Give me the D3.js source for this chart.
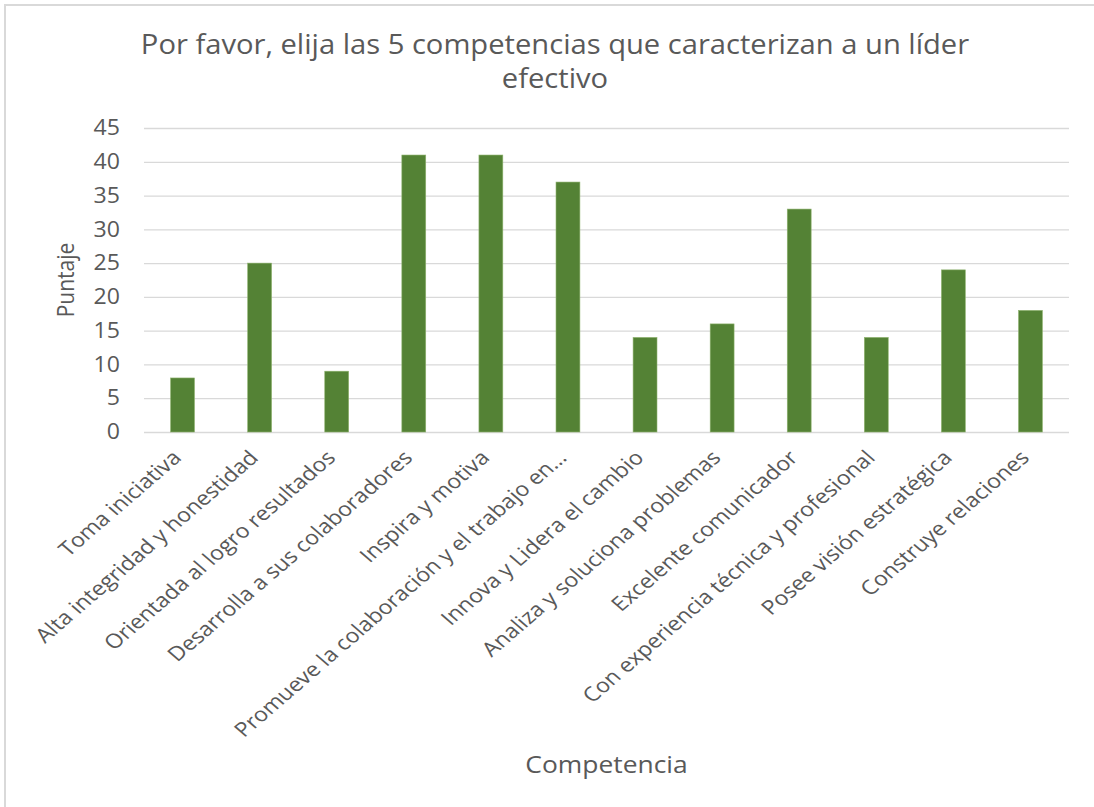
<!DOCTYPE html>
<html>
<head>
<meta charset="utf-8">
<script src="https://cdn.jsdelivr.net/npm/d3@7"></script>
<style>
  html, body { margin: 0; padding: 0; background: #ffffff; }
  svg { display: block; }
  text { font-family: "Open Sans", sans-serif; fill: #595959; }
</style>
</head>
<body>
<svg id="chart" width="1094" height="807"></svg>
<script>
// Competencias evaluadas y su puntaje
const categories = [
  "Toma iniciativa",
  "Alta integridad y honestidad",
  "Orientada al logro resultados",
  "Desarrolla a sus colaboradores",
  "Inspira y motiva",
  "Promueve la colaboración y el trabajo en…",
  "Innova y Lidera el cambio",
  "Analiza y soluciona problemas",
  "Excelente comunicador",
  "Con experiencia técnica y profesional",
  "Posee visión estratégica",
  "Construye relaciones"
];
const scores = [8, 25, 9, 41, 41, 37, 14, 16, 33, 14, 24, 18];
const yTicks = [0, 5, 10, 15, 20, 25, 30, 35, 40, 45];
const titleLines = ["Por favor, elija las 5 competencias que caracterizan a un líder", "efectivo"];
const xTitle = "Competencia";
const yTitle = "Puntaje";

const svg = d3.select("#chart");
const W = 1094, H = 807;
const plot = { left: 144, right: 1069, top: 128, bottom: 432 };
const stretch = 1.1; // texto ligeramente ensanchado en horizontal

// Marco del gráfico (solo bordes superior e izquierdo visibles)
svg.append("path")
  .attr("d", `M5,${H} L5,5 L${W},5`)
  .attr("fill", "none")
  .attr("stroke", "#d9d9d9")
  .attr("stroke-width", 2);

const x = d3.scaleBand()
  .domain(categories)
  .range([plot.left, plot.right])
  .paddingInner(0.69)
  .paddingOuter(0.345);

const y = d3.scaleLinear()
  .domain([0, 45])
  .range([plot.bottom, plot.top]);

// Líneas de cuadrícula y etiquetas del eje Y
const yAxis = d3.axisLeft(y)
  .tickValues(yTicks)
  .tickSize(-(plot.right - plot.left))
  .tickPadding(0);

const gy = svg.append("g")
  .attr("transform", `translate(${plot.left},0)`)
  .call(yAxis);
gy.select(".domain").remove();
gy.selectAll(".tick line").attr("stroke", "#d9d9d9").attr("stroke-width", 1.3);
gy.selectAll(".tick text")
  .attr("font-family", "Open Sans, sans-serif")
  .attr("font-size", 21)
  .attr("fill", "#595959")
  .attr("x", null)
  .attr("transform", `translate(-24,0) scale(${stretch},1)`);

// Barras
svg.append("g")
  .selectAll("rect")
  .data(scores)
  .join("rect")
  .attr("x", (d, i) => x(categories[i]))
  .attr("y", d => y(d))
  .attr("width", x.bandwidth())
  .attr("height", d => y(0) - y(d))
  .attr("fill", "#548235")
  .attr("stroke", "#8fb36f")
  .attr("stroke-width", 0.6);

// Etiquetas de categoría rotadas
const xAxis = d3.axisBottom(x).tickSize(0).tickPadding(0);
const gx = svg.append("g")
  .attr("transform", `translate(0,${plot.bottom})`)
  .call(xAxis);
gx.select(".domain").remove();
gx.selectAll(".tick text")
  .attr("font-family", "Open Sans, sans-serif")
  .attr("font-size", 20)
  .attr("fill", "#595959")
  .attr("text-anchor", "end")
  .attr("dy", null)
  .attr("y", null)
  .attr("transform", "translate(0,27) scale(1.16,1) rotate(-45)");

// Título
const title = svg.append("g").attr("transform", `translate(555,0) scale(${stretch},1)`);
title.append("text")
  .attr("text-anchor", "middle")
  .attr("font-size", 26.5)
  .selectAll("tspan")
  .data(titleLines)
  .join("tspan")
  .attr("x", 0)
  .attr("y", (d, i) => 54.5 + i * 34)
  .text(d => d);

// Títulos de los ejes
svg.append("text")
  .attr("transform", `translate(${(plot.left + plot.right) / 2},773) scale(${stretch},1)`)
  .attr("text-anchor", "middle")
  .attr("font-size", 24)
  .text(xTitle);

svg.append("text")
  .attr("transform", `translate(74,${(plot.top + plot.bottom) / 2}) scale(${stretch},1) rotate(-90)`)
  .attr("text-anchor", "middle")
  .attr("font-size", 21)
  .text(yTitle);
</script>
</body>
</html>
